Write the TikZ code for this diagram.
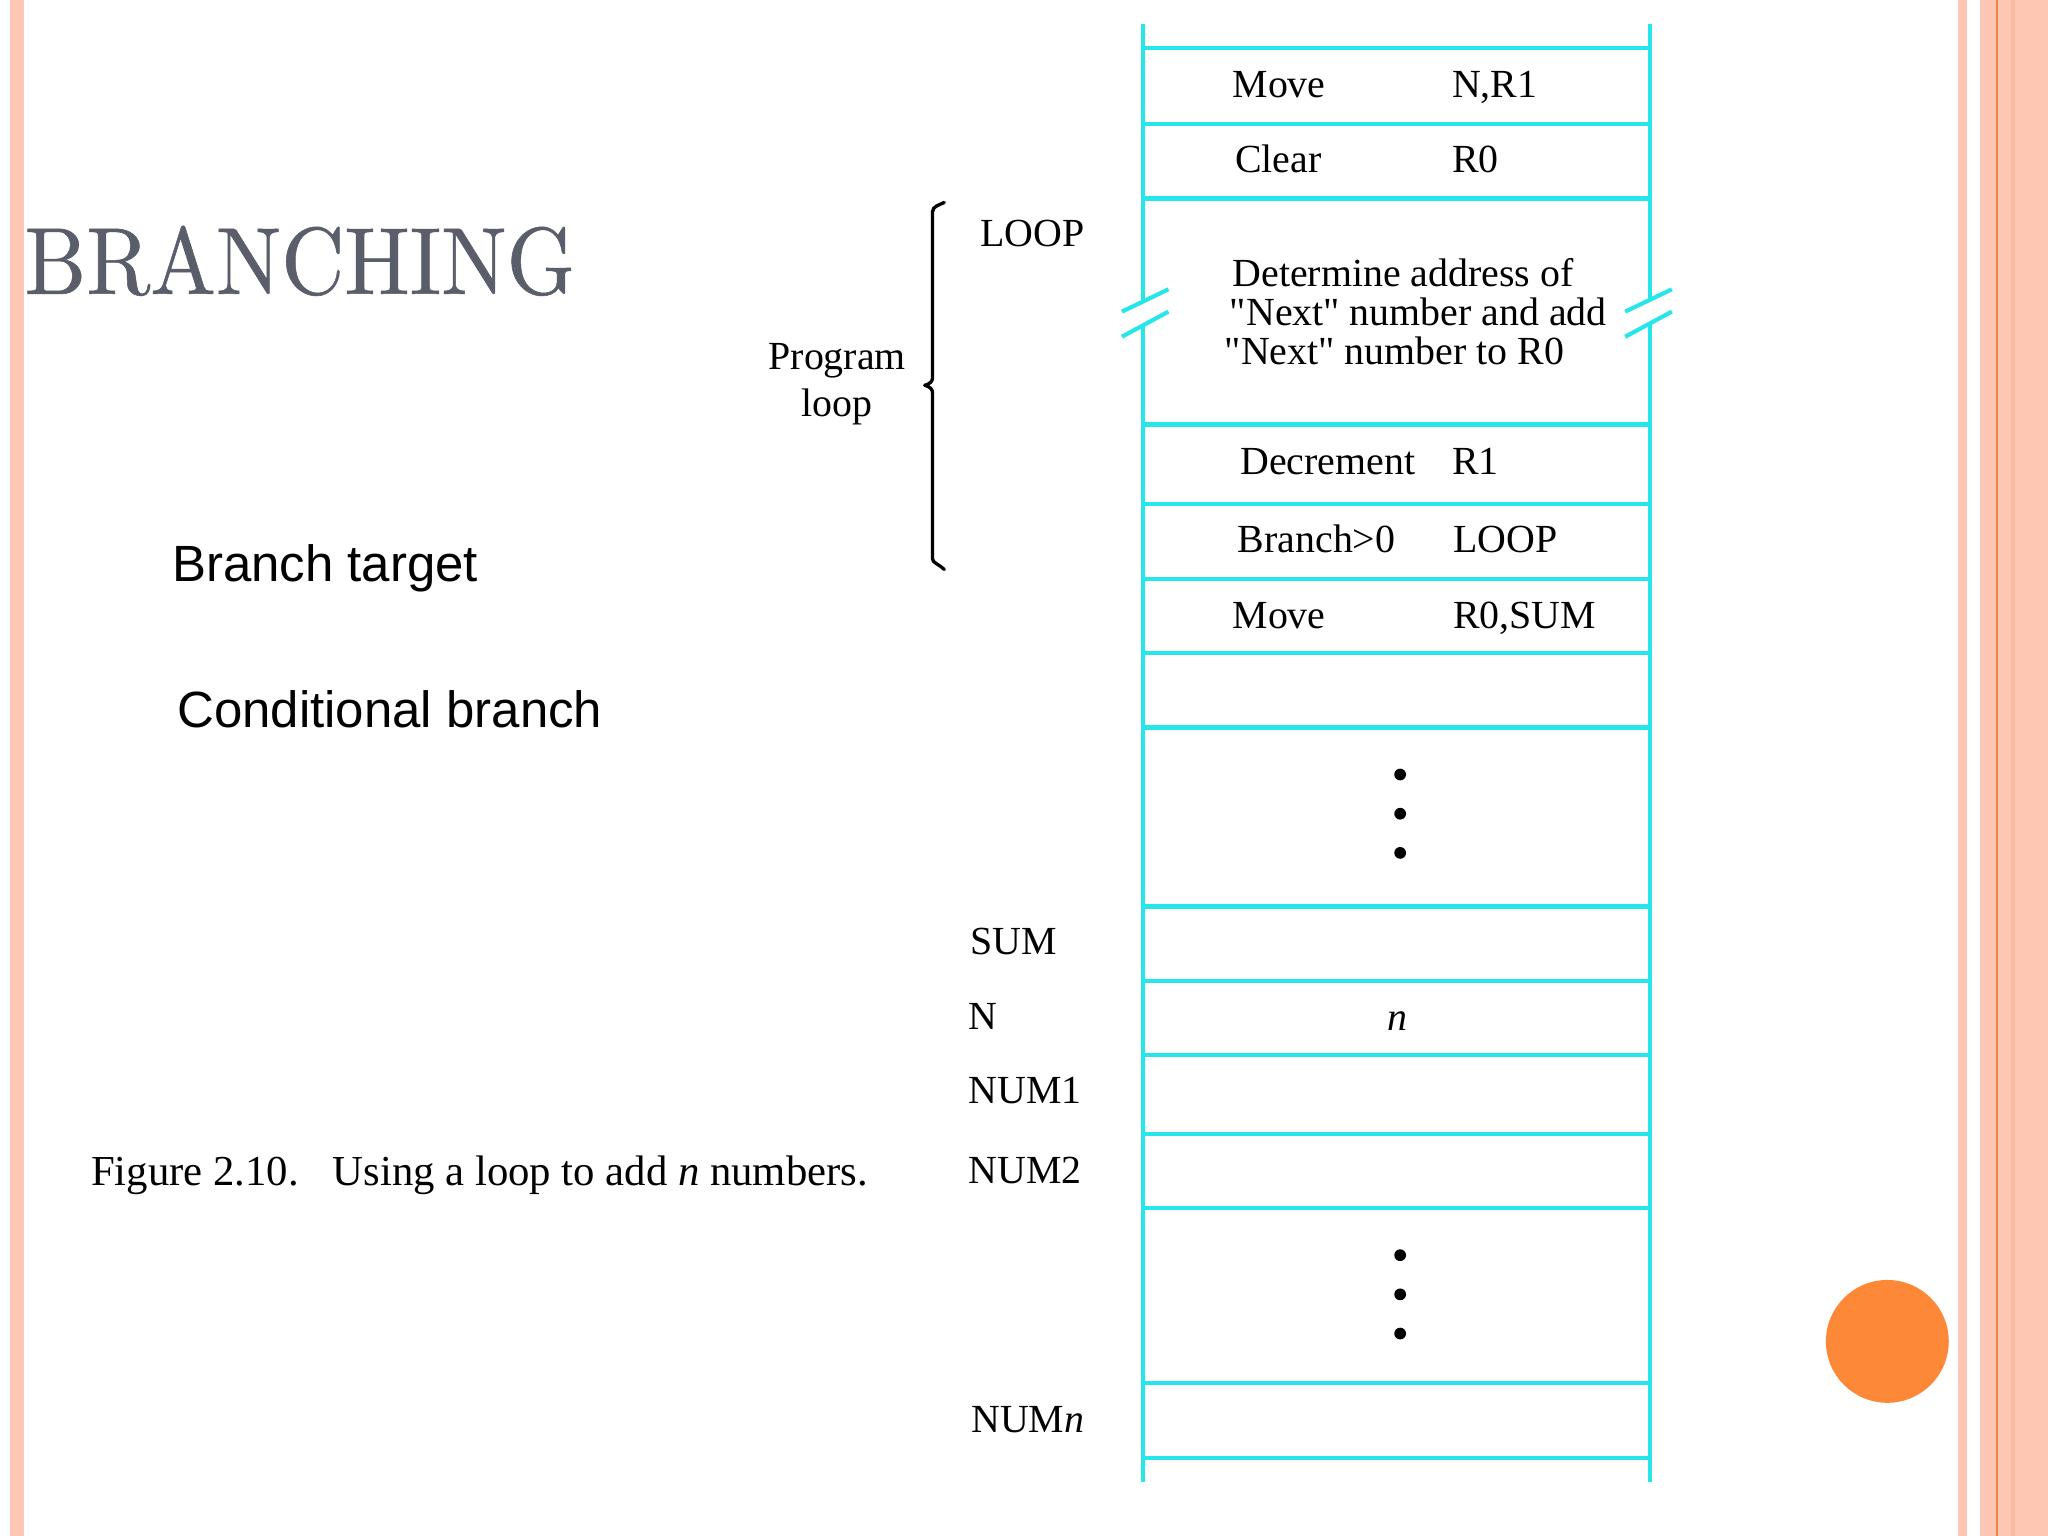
\documentclass[tikz,border=0pt]{standalone}
\usepackage{fontspec}
\newfontfamily\timesf{Liberation Serif}
\newfontfamily\arialf{Liberation Sans}
\newfontfamily\lmten[FakeBold=0.6]{lmroman10-regular.otf}
\definecolor{pinkc}{RGB}{253,199,180}
\definecolor{pinkd}{RGB}{250,186,162}
\definecolor{orangeln}{RGB}{240,130,70}
\definecolor{orangec}{RGB}{253,136,55}
\definecolor{tabcyan}{RGB}{38,230,236}
\definecolor{titlegrey}{RGB}{90,94,106}
\begin{document}
\begin{tikzpicture}[x=0.01cm,y=-0.01cm,
  tx/.style={font=\timesf\fontsize{8.68}{9}\selectfont, inner sep=0pt, anchor=base west},
  captext/.style={font=\timesf\fontsize{9.3}{10}\selectfont, inner sep=0pt, anchor=base west},
  sans/.style={font=\arialf\fontsize{11.1}{12}\selectfont, inner sep=0pt, anchor=base west},
  cyanline/.style={draw=tabcyan, line width=0.9pt},
  bracestyle/.style={draw=black, line width=0.72pt, line cap=round, line join=round},
  dotfill/.style={fill=black}]
\useasboundingbox (0,0) rectangle (1568,1176);
\fill[white] (0,0) rectangle (1568,1176);
% slide borders
\fill[pinkc] (8,0) rectangle (18,1176);
\fill[pinkc] (1499,0) rectangle (1506,1176);
\fill[pinkc] (1516,0) rectangle (1568,1176);
\fill[pinkd] (1540,0) rectangle (1543,1176);
\draw[orangeln, line width=0.4pt] (1529,0) -- (1529,1176);
\fill[orangec] (1445,1027) circle (0.47cm);
% title and bullets
\node[font=\lmten\fontsize{19}{20}\selectfont, text=titlegrey, inner sep=0pt, anchor=base west] (title) at (18,225) {\scalebox{1}[1.09]{BRANCHING}};
\node[sans] (btarget) at (131,445) {Branch target};
\node[sans] (cbranch) at (135,557) {Conditional branch};
\node[captext] (caption) at (69,908) {Figure 2.10.\hspace{0.8em}Using a loop to add \textit{n} numbers.};
% table frame
\draw[cyanline] (875,18) -- (875,230.9);
\draw[cyanline] (875,249.2) -- (875,1135);
\draw[cyanline] (1263,18) -- (1263,229.6);
\draw[cyanline] (1263,247.7) -- (1263,1135);
\draw[cyanline] (859,238.6) -- (894.6,221.5);
\draw[cyanline] (859,257.8) -- (894.6,238.6);
\draw[cyanline] (1244.3,238.6) -- (1280,221.5);
\draw[cyanline] (1244.3,257.8) -- (1280,238.6);
\foreach \yy in {37,95,152,325,386,443,500,557,694,751,808,868,925,1059,1116}
  \draw[cyanline] (875,\yy) -- (1263,\yy);
% instructions
\node[tx] (mv1) at (943,75) {Move};
\node[tx] (mv1a) at (1111,75) {N,R1};
\node[tx] (clr) at (945,132) {Clear};
\node[tx] (clra) at (1111,132) {R0};
\node[tx] (loop) at (750,189) {LOOP};
\node[tx] (det1) at (943,219) {Determine address of};
\node[tx] (det2) at (941,249) {"Next" number and add};
\node[tx] (det3) at (937,279) {"Next" number to R0};
\node[tx] (dec) at (949,363) {Decrement};
\node[tx] (deca) at (1111,363) {R1};
\node[tx] (br) at (947,423) {Branch>0};
\node[tx] (bra) at (1112,423) {LOOP};
\node[tx] (mv2) at (943,481) {Move};
\node[tx] (mv2a) at (1112,481) {R0,SUM};
% program loop brace
\node[tx, anchor=base] (prog) at (641,283) {Program};
\node[tx, anchor=base] (progl) at (641,319) {loop};
\draw[bracestyle] (723,155) .. controls (719,157) and (714,158) .. (714,162) -- (714,289)
  .. controls (714,292) and (712,294) .. (708,295)
  .. controls (712,296) and (714,298) .. (714,301) -- (714,428)
  .. controls (714,431) and (719,432) .. (723,436);
% dots
\foreach \yy in {593,623,653,961,991,1021}
  \fill[dotfill] (1072,\yy) circle (0.045cm);
% data labels
\node[tx] (sum) at (742,731) {SUM};
\node[tx] (nlab) at (741,788) {N};
\node[tx, anchor=base] (nval) at (1070,789) {\textit{n}};
\node[tx] (num1) at (741,845) {NUM1};
\node[tx] (num2) at (741,906) {NUM2};
\node[tx] (numn) at (743,1097) {NUM\textit{n}};
\end{tikzpicture}
\end{document}
